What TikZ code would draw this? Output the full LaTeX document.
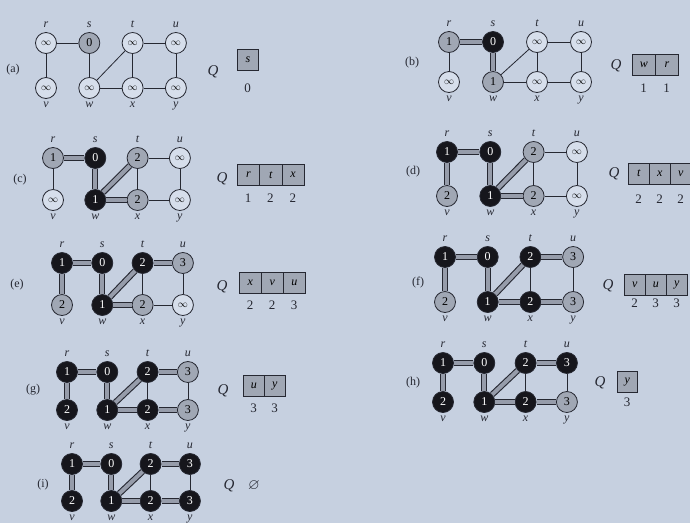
\documentclass[tikz,border=0pt]{standalone}
\usepackage{amssymb}
\usepackage{fontspec}
\setmainfont{Liberation Serif}
\definecolor{paper}{RGB}{198,208,224}
\definecolor{whitec}{RGB}{214,222,235}
\definecolor{grayc}{RGB}{160,167,180}
\definecolor{blackc}{RGB}{22,22,28}
\definecolor{edgec}{RGB}{38,40,50}
\definecolor{treec}{RGB}{150,156,170}
\newcommand\infsym{{\fontsize{10}{10}\selectfont$\infty$}}
\tikzset{
  vx/.style={circle, draw=edgec, line width=0.8pt, minimum size=21pt, inner sep=0pt,
             font=\fontsize{12}{12}\selectfont},
  wn/.style={vx, fill=whitec},
  gn/.style={vx, fill=grayc},
  bn/.style={vx, fill=blackc, text=white},
  lab/.style={font=\fontsize{12}{12}\selectfont\itshape, text=edgec, inner sep=1pt},
  ed/.style={draw=edgec, line width=0.8pt},
  tr/.style={draw=edgec, line width=1.1pt, double=treec, double distance=4pt},
  qc/.style={draw=edgec, line width=0.7pt, fill=grayc, minimum height=21pt, inner sep=0pt,
             font=\fontsize{12}{12}\selectfont\itshape},
  qlab/.style={font=\fontsize{15}{15}\selectfont\itshape, text=edgec},
  num/.style={font=\fontsize{13}{13}\selectfont, text=edgec},
  plab/.style={font=\fontsize{12}{12}\selectfont, text=edgec}
}
% #1 prefix, #2 x0, #3 y0, #4 dx, #5 dy, #6 node specs, #7 tree edges
\newcommand\bfspanel[7]{%
  \begin{scope}[shift={(#2,#3)},x=#4pt,y=-#5pt]
    \foreach \st/\tx [count=\k from 0] in {#6}{%
      \pgfmathtruncatemacro\cc{mod(\k,4)}%
      \pgfmathtruncatemacro\rr{\k/4}%
      \edef\nm{\ifcase\k r\or s\or t\or u\or v\or w\or x\or y\fi}%
      \node[\st] (#1\nm) at (\cc,\rr) {\tx};
      \ifnum\rr=0
        \node[lab, anchor=south, yshift=3pt] (#1\nm l) at (#1\nm.north) {\nm};
      \else
        \node[lab, anchor=north, yshift=-2pt] (#1\nm l) at (#1\nm.south) {\nm};
      \fi
    }
  \end{scope}
  \foreach \a/\b in {r/s,r/v,s/w,w/t,w/x,t/x,t/u,x/y,u/y} \draw[ed] (#1\a) -- (#1\b);
  \if\relax\detokenize{#7}\relax\else
    \foreach \a/\b in {#7} \draw[tr] (#1\a) -- (#1\b);
  \fi
}
% #1 prefix, #2 Qx, #3 Qy, #4 left, #5 cy, #6 w, #7 numy, #8 cells
\newcommand\bfsq[8]{%
  \node[qlab] (#1Q) at (#2,#3) {Q};
  \foreach \c/\d [count=\k] in {#8}{%
    \node[qc, minimum width=#6pt, anchor=west] (#1q\k) at ({#4+(\k-1)*#6},#5) {\c};
    \node[num] (#1n\k) at ({#4+(\k-0.5)*#6},#7) {\d};
  }
}
\begin{document}
\begin{tikzpicture}[x=1pt,y=-1pt]
\useasboundingbox (0,0) rectangle (690,523);
\fill[paper] (0,0) rectangle (690,523);

% (a)
\node[plab] (la) at (13,70) {(a)};
\bfspanel{a}{46}{43}{43.3}{45}{wn/\infsym,gn/0,wn/\infsym,wn/\infsym,wn/\infsym,wn/\infsym,wn/\infsym,wn/\infsym}{}
\bfsq{a}{213}{72}{237}{60}{21}{88}{s/0}

% (b)
\node[plab] (lb) at (412,63) {(b)};
\bfspanel{b}{449}{42}{44}{40}{gn/1,bn/0,wn/\infsym,wn/\infsym,wn/\infsym,gn/1,wn/\infsym,wn/\infsym}{s/r,s/w}
\bfsq{b}{616}{66}{632}{65}{23}{88}{w/1,r/1}

% (c)
\node[plab] (lc) at (20,180) {(c)};
\bfspanel{c}{53}{158}{42.3}{42}{gn/1,bn/0,gn/2,wn/\infsym,wn/\infsym,bn/1,gn/2,wn/\infsym}{s/r,s/w,w/t,w/x}
\bfsq{c}{222}{179}{237}{175}{22.3}{198}{r/1,t/2,x/2}

% (d)
\node[plab] (ld) at (413,172) {(d)};
\bfspanel{d}{447}{152}{43.3}{44}{bn/1,bn/0,gn/2,wn/\infsym,gn/2,bn/1,gn/2,wn/\infsym}{s/r,s/w,w/t,w/x,r/v}
\bfsq{d}{614}{174}{628}{173.5}{21}{199}{t/2,x/2,v/2}

% (e)
\node[plab] (le) at (17,285) {(e)};
\bfspanel{e}{62}{263}{40.3}{42}{bn/1,bn/0,bn/2,gn/3,gn/2,bn/1,gn/2,wn/\infsym}{s/r,s/w,w/t,w/x,r/v,t/u}
\bfsq{e}{222}{287}{239}{282.5}{22}{305}{x/2,v/2,u/3}

% (f)
\node[plab] (lf) at (418,283) {(f)};
\bfspanel{f}{445}{257}{42.7}{45}{bn/1,bn/0,bn/2,gn/3,gn/2,bn/1,bn/2,gn/3}{s/r,s/w,w/t,w/x,r/v,t/u,x/y}
\bfsq{f}{608}{286}{624}{285}{21}{303}{v/2,u/3,y/3}

% (g)
\node[plab] (lg) at (33,390) {(g)};
\bfspanel{g}{67}{372}{40.3}{38}{bn/1,bn/0,bn/2,gn/3,bn/2,bn/1,bn/2,gn/3}{s/r,s/w,w/t,w/x,r/v,t/u,x/y}
\bfsq{g}{223}{391}{243}{386}{21}{408}{u/3,y/3}

% (h)
\node[plab] (lh) at (413,383) {(h)};
\bfspanel{h}{443}{363}{41.3}{39}{bn/1,bn/0,bn/2,bn/3,bn/2,bn/1,bn/2,gn/3}{s/r,s/w,w/t,w/x,r/v,t/u,x/y}
\bfsq{h}{600}{383}{617}{382}{20}{402}{y/3}

% (i)
\node[plab] (li) at (43,485) {(i)};
\bfspanel{i}{72}{464}{39.3}{37}{bn/1,bn/0,bn/2,bn/3,bn/2,bn/1,bn/2,bn/3}{s/r,s/w,w/t,w/x,r/v,t/u,x/y}
\node[qlab] (iQ) at (229,486) {Q};
\node[num, font=\fontsize{15}{15}\selectfont] (iE) at (254,486) {$\varnothing$};
\end{tikzpicture}
\end{document}
